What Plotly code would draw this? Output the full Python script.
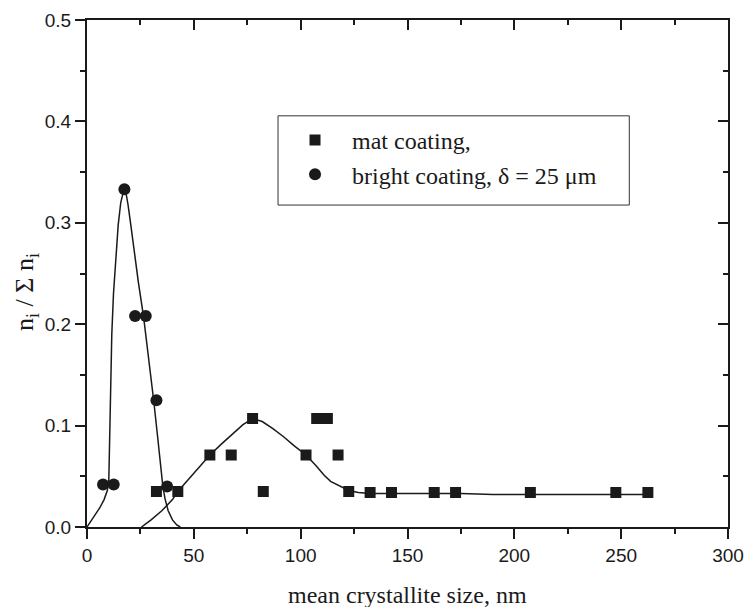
import plotly.graph_objects as go

# data
bright_x = [7.5, 12.5, 17.5, 22.5, 27.5, 32.5, 37.5]
bright_y = [0.042, 0.042, 0.333, 0.208, 0.208, 0.125, 0.040]

mat_x = [32.5, 42.5, 57.5, 67.5, 77.5, 82.5, 102.5, 107.5, 112.5, 117.5,
         122.5, 132.5, 142.5, 162.5, 172.5, 207.5, 247.5, 262.5]
mat_y = [0.035, 0.035, 0.071, 0.071, 0.107, 0.035, 0.071, 0.107, 0.107, 0.071,
         0.035, 0.034, 0.034, 0.034, 0.034, 0.034, 0.034, 0.034]

# fitted curves
bright_fit_x = [0, 2, 4, 6, 8, 9.5, 10.2, 10.6, 11.0, 11.6, 12.4, 13.4, 14.6, 15.8,
                16.8, 17.4, 18.2, 19.2, 20.5, 22.0, 24.0, 26.5, 29.0, 31.2, 33.0,
                34.5, 35.5, 36.5, 38.0, 40.0, 42.0, 43.7]
bright_fit_y = [0.0, 0.006, 0.013, 0.019, 0.027, 0.036, 0.045, 0.090, 0.140, 0.190,
                0.230, 0.265, 0.298, 0.320, 0.331, 0.334, 0.330, 0.318, 0.298, 0.272,
                0.242, 0.207, 0.166, 0.125, 0.090, 0.058, 0.040, 0.028, 0.016, 0.007,
                0.002, 0.0]

mat_fit_x = [25.5, 30, 35, 40, 42.5, 47, 52, 57.5, 63, 68, 73, 77.5, 82, 87, 92,
             97, 102.5, 107, 111, 114, 118, 122.5, 127, 132.5, 150, 175, 190,
             210, 240, 262.5]
mat_fit_y = [0.0, 0.007, 0.016, 0.027, 0.035, 0.046, 0.058, 0.071, 0.082, 0.092,
             0.101, 0.107, 0.104, 0.097, 0.089, 0.080, 0.071, 0.061, 0.051, 0.045,
             0.041, 0.036, 0.034, 0.033, 0.033, 0.033, 0.032, 0.032, 0.032, 0.032]

x_ticks = [0, 50, 100, 150, 200, 250, 300]
y_ticks = [0.0, 0.1, 0.2, 0.3, 0.4, 0.5]
y_tick_text = ["0.0", "0.1", "0.2", "0.3", "0.4", "0.5"]

ink = "#1a1a1a"
serif = "Liberation Serif, Times New Roman, serif"
sans = "Liberation Sans, Arial, sans-serif"

fig = go.Figure()
fig.add_trace(go.Scatter(x=bright_fit_x, y=bright_fit_y, mode="lines",
                         line=dict(color=ink, width=1.5), showlegend=False,
                         hoverinfo="skip"))
fig.add_trace(go.Scatter(x=mat_fit_x, y=mat_fit_y, mode="lines",
                         line=dict(color=ink, width=1.5), showlegend=False,
                         hoverinfo="skip"))
fig.add_trace(go.Scatter(x=mat_x, y=mat_y, mode="markers", name="mat coating,",
                         marker=dict(symbol="square", size=11, color=ink)))
fig.add_trace(go.Scatter(x=bright_x, y=bright_y, mode="markers",
                         name="bright coating, δ = 25 μm",
                         marker=dict(symbol="circle", size=12, color=ink)))
# empty trace to activate the mirrored top/right axes
fig.add_trace(go.Scatter(x=[], y=[], xaxis="x2", yaxis="y2", showlegend=False,
                         hoverinfo="skip"))

axis_common = dict(showgrid=False, zeroline=False, showline=True,
                   linecolor=ink, linewidth=2, tickcolor=ink, tickwidth=2,
                   ticklen=10, automargin=False)

fig.update_layout(
    width=746, height=607,
    margin=dict(l=87, r=18, t=20, b=80),
    paper_bgcolor="white", plot_bgcolor="white",
    xaxis=dict(range=[0, 300], tickvals=x_ticks, ticks="outside",
               minor=dict(dtick=25, tick0=0, ticks="outside", ticklen=5,
                          tickwidth=2, tickcolor=ink),
               tickfont=dict(family=sans, size=19, color=ink),
               **axis_common),
    yaxis=dict(range=[0, 0.5], tickvals=y_ticks, ticktext=y_tick_text,
               ticks="outside",
               minor=dict(dtick=0.05, tick0=0, ticks="outside", ticklen=5,
                          tickwidth=2, tickcolor=ink),
               tickfont=dict(family=sans, size=19, color=ink),
               **axis_common),
    xaxis2=dict(range=[0, 300], overlaying="x", side="top", tickvals=x_ticks,
                ticks="inside", showticklabels=False,
                minor=dict(dtick=25, tick0=0, ticks="inside", ticklen=5,
                           tickwidth=2, tickcolor=ink),
                **axis_common),
    yaxis2=dict(range=[0, 0.5], overlaying="y", side="right", tickvals=y_ticks,
                ticks="inside", showticklabels=False,
                minor=dict(dtick=0.05, tick0=0, ticks="inside", ticklen=5,
                           tickwidth=2, tickcolor=ink),
                **axis_common),
    legend=dict(x=0.298, y=0.807, xanchor="left", yanchor="top",
                bgcolor="rgba(0,0,0,0)", borderwidth=0,
                font=dict(family=serif, size=24, color=ink),
                itemwidth=64, tracegroupgap=0),
    shapes=[dict(type="rect", xref="paper", yref="paper",
                 x0=0.298, x1=0.846, y0=0.635, y1=0.811,
                 line=dict(color="#333333", width=1), layer="below")],
    annotations=[
        dict(text="n<sub>i</sub> / Σ n<sub>i</sub>", textangle=-90,
             xref="paper", yref="paper", x=-0.094, y=0.463,
             xanchor="center", yanchor="middle", showarrow=False,
             font=dict(family=serif, size=26, color=ink)),
        dict(text="mean crystallite size, nm", xref="paper", yref="paper",
             x=0.5, y=-0.134, xanchor="center", yanchor="middle",
             showarrow=False, font=dict(family=serif, size=24, color=ink)),
    ],
)

fig.write_html("out.html")
